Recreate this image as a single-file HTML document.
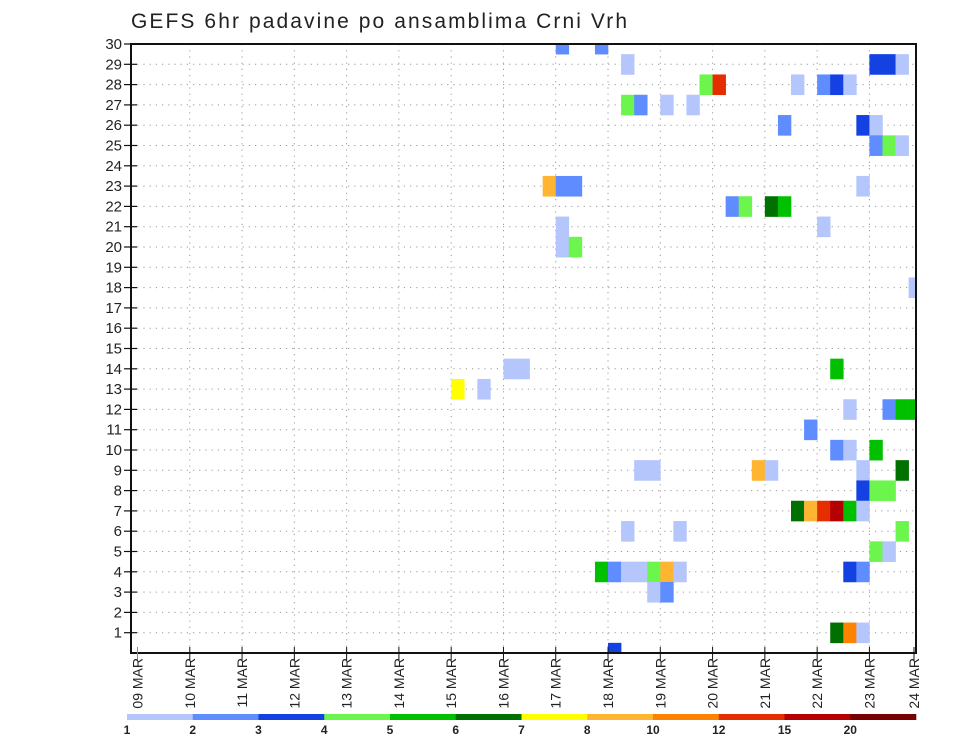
<!DOCTYPE html>
<html><head><meta charset="utf-8"><style>
html,body{margin:0;padding:0;background:#fff;}
svg{display:block;font-family:"Liberation Sans",sans-serif;}
</style></head><body>
<svg id="chart" width="960" height="742" viewBox="0 0 960 742" xmlns="http://www.w3.org/2000/svg">
<text x="131" y="28" font-size="21" fill="#222" textLength="496" lengthAdjust="spacing">GEFS 6hr padavine po ansamblima Crni Vrh</text>
<defs><clipPath id="plotclip"><rect x="131" y="44" width="785" height="609"/></clipPath></defs>
<g id="grid"></g>
<g id="cells" clip-path="url(#plotclip)"></g>
<rect x="131" y="44" width="785" height="609" fill="none" stroke="#111" stroke-width="2"/>
<g id="axes"></g>
<g id="colorbar"></g>
</svg>
<script>
// ---- data ----
const days = ["09","10","11","12","13","14","15","16","17","18","19","20","21","22","23","24"];
const members = [1,2,3,4,5,6,7,8,9,10,11,12,13,14,15,16,17,18,19,20,21,22,23,24,25,26,27,28,29,30];
// cell time index (6h steps from 09 MAR 00Z)
const cellStep = [32,35, 37,56,57,58, 43,44,50,52,53,54, 37,38,40,42, 49,55,56, 56,57,58,
  31,32,33,55, 45,46,48,49, 52, 32, 32,33, 59,
  28,29,53, 24,26, 54,57,58,59, 51, 53,54,56, 38,39,47,48,55,58, 55,56,57,
  50,51,52,53,54,55, 37,41,58, 56,57, 35,36,37,38,39,40,41,54,55, 39,40, 53,54,55, 36];
// ensemble member of each cell
const cellMember = [30,30, 29,29,29,29, 28,28,28,28,28,28, 27,27,27,27, 26,26,26, 25,25,25,
  23,23,23,23, 22,22,22,22, 21, 21, 20,20, 18,
  14,14,14, 13,13, 12,12,12,12, 11, 10,10,10, 9,9,9,9,9,9, 8,8,8,
  7,7,7,7,7,7, 6,6,6, 5,5, 4,4,4,4,4,4,4,4,4, 3,3, 1,1,1, 0];
// 6h precipitation (mm)
const cellValue = [2.5,2.5, 1.5,3.5,3.5,1.5, 4.5,13,1.5,2.5,3.5,1.5, 4.5,2.5,1.5,1.5, 2.5,3.5,1.5, 2.5,4.5,1.5,
  9,2.5,2.5,1.5, 2.5,4.5,6.5,5.5, 1.5, 1.5, 1.5,4.5, 1.5,
  1.5,1.5,5.5, 7.5,1.5, 1.5,2.5,5.5,5.5, 2.5, 2.5,1.5,5.5, 1.5,1.5,9,1.5,1.5,6.5, 3.5,4.5,4.5,
  6.5,9,13,17,5.5,1.5, 1.5,1.5,4.5, 4.5,1.5, 5.5,2.5,1.5,1.5,4.5,9,1.5,3.5,2.5, 1.5,2.5, 6.5,11,1.5, 3.5];
const levels = [1,2,3,4,5,6,7,8,10,12,15,20];
const colors = ["#b4c6fc","#5f8cff","#1441e2","#6cf54d","#00c000","#007000","#ffff00","#ffb432","#ff8200","#e62d00","#b40000","#780000"];

// ---- scales ----
const X0 = 137.5, DAYW = 52.28, STEPW = DAYW/4;
const Y0 = 653, ROWH = 20.3;
const xDay = d => X0 + d*DAYW;
const xStep = q => X0 + q*STEPW;
const yMem = m => Y0 - m*ROWH;
const colorFor = v => { let c = null; for (let i=0;i<levels.length;i++) if (v>=levels[i]) c = colors[i]; return c; };
const NS = "http://www.w3.org/2000/svg";
function mk(tag, attrs, parent){ const e=document.createElementNS(NS,tag); for(const k in attrs) e.setAttribute(k,attrs[k]); parent.appendChild(e); return e; }

const grid = document.getElementById('grid');
for (let i=1;i<days.length-1;i++){
  const l = mk('line',{x1:xDay(i),x2:xDay(i),y1:44,y2:653,stroke:'#999','stroke-width':1,'stroke-dasharray':'1.2,5'},grid);
  
  
}
members.forEach(m=>{
  if (m>=30) return;
  const l = mk('line',{x1:131,x2:916,y1:yMem(m),y2:yMem(m),stroke:'#999','stroke-width':1,'stroke-dasharray':'1.2,5'},grid);
  
  
});

const cells = document.getElementById('cells');
for (let i=0;i<cellStep.length;i++){
  const c = colorFor(cellValue[i]); if(!c) continue;
  const r = mk('rect',{x:xStep(cellStep[i]),y:yMem(cellMember[i])-ROWH/2,width:STEPW+0.3,height:ROWH+0.3,fill:c},cells);
  
  
}

const axes = document.getElementById('axes');
members.forEach(m=>{
  const t = mk('line',{x1:124,x2:137,y1:yMem(m),y2:yMem(m),stroke:'#111','stroke-width':1.2},axes);
  
  
  const lb = mk('text',{x:122,y:yMem(m)+5,'text-anchor':'end','font-size':15,fill:'#222'},axes);
  lb.textContent = m;
  
  
});
days.forEach((d,i)=>{
  const x = Math.min(xDay(i), 914);
  const t = mk('line',{x1:x,x2:x,y1:647,y2:660,stroke:i===0?'#d66':'#111','stroke-width':1},axes);
  
  
  const lb = mk('text',{x:0,y:0,'text-anchor':'end','font-size':14,fill:'#222',transform:`translate(${x+5},658) rotate(-90)`},axes);
  lb.textContent = d + " MAR";
  
  
});

const cb = document.getElementById('colorbar');
const CBX = 127, CBW = (916-127)/colors.length;
colors.forEach((c,i)=>{
  const r = mk('rect',{x:CBX+i*CBW,y:714,width:CBW+0.3,height:6,fill:c},cb);
  
  
});
levels.forEach((v,i)=>{
  const t = mk('text',{x:CBX+i*CBW,y:734,'text-anchor':'middle','font-size':12,'font-weight':'bold',fill:'#222'},cb);
  t.textContent = v;
  
  
});
</script>
</body></html>
